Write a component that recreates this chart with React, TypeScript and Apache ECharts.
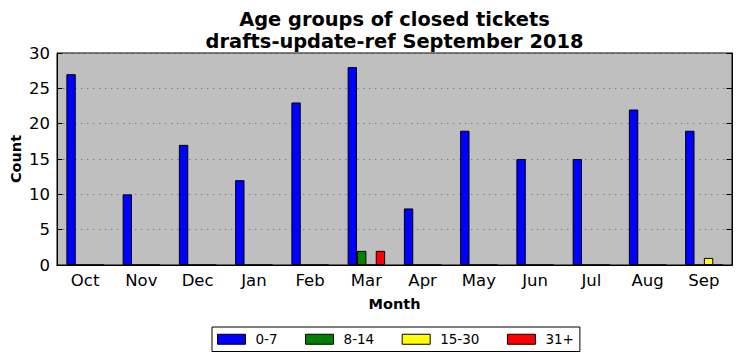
import React, { useEffect, useRef } from "react";
import * as echarts from "echarts";

const months = ["Oct", "Nov", "Dec", "Jan", "Feb", "Mar", "Apr", "May", "Jun", "Jul", "Aug", "Sep"];
const seriesNames = ["0-7", "8-14", "15-30", "31+"];
const age0to7 = [27, 10, 17, 12, 23, 28, 8, 19, 15, 15, 22, 19];
const age8to14 = [0, 0, 0, 0, 0, 2, 0, 0, 0, 0, 0, 0];
const age15to30 = [0, 0, 0, 0, 0, 0, 0, 0, 0, 0, 0, 1];
const age31plus = [0, 0, 0, 0, 0, 2, 0, 0, 0, 0, 0, 0];
const seriesColors = ["#0000ff", "#008000", "#ffff00", "#ff0000"];
const yTicks = { min: 0, max: 30, interval: 5 };

const FONT = "DejaVu Sans";

export default function App() {
  const ref = useRef<HTMLDivElement>(null);
  useEffect(() => {
    if (!ref.current) return;
    const chart = echarts.init(ref.current, undefined, { renderer: "svg" });
    const values = [age0to7, age8to14, age15to30, age31plus];
    const tickStyle = { inside: true, length: 5.5, lineStyle: { color: "#000", width: 1 } };
    chart.setOption({
      animation: false,
      title: {
        text: "Age groups of closed tickets\ndrafts-update-ref September 2018",
        left: 394.5,
        textAlign: "center",
        top: 8,
        padding: 0,
        textStyle: { fontFamily: FONT, fontWeight: "bold", fontSize: 19.4, lineHeight: 22, color: "#000" },
      },
      grid: {
        left: 57,
        right: 10,
        top: 53,
        bottom: 96,
        show: true,
        backgroundColor: "#bfbfbf",
        borderColor: "#000",
        borderWidth: 1,
        containLabel: false,
        outerBoundsMode: "none",
      },
      legend: {
        data: seriesNames,
        left: 212,
        top: 327,
        padding: [5, 6, 5, 5],
        itemWidth: 28,
        itemHeight: 10,
        itemGap: 27.5,
        borderColor: "#000",
        borderWidth: 1,
        backgroundColor: "#fff",
        icon: "rect",
        itemStyle: { borderColor: "#000", borderWidth: 1 },
        textStyle: { fontFamily: FONT, fontSize: 13.5, lineHeight: 14.5, color: "#000", padding: [0, 0, 0, 5] },
      },
      xAxis: [
        {
          type: "category",
          data: months,
          position: "bottom",
          name: "Month",
          nameLocation: "middle",
          nameGap: 31,
          nameMoveOverlap: false,
          nameTextStyle: { fontFamily: FONT, fontWeight: "bold", fontSize: 14.5, color: "#000" },
          axisLine: { show: true, lineStyle: { color: "#000", width: 1 } },
          axisTick: { ...tickStyle, alignWithLabel: true },
          axisLabel: { fontFamily: FONT, fontSize: 16.5, color: "#000", margin: 7 },
          splitLine: { show: false },
        },
        {
          type: "category",
          data: months,
          position: "top",
          axisLine: { show: true, lineStyle: { color: "#000", width: 1 } },
          axisTick: { ...tickStyle, alignWithLabel: true },
          axisLabel: { show: false },
          splitLine: { show: false },
        },
      ],
      yAxis: [
        {
          type: "value",
          position: "left",
          ...yTicks,
          name: "Count",
          nameLocation: "middle",
          nameGap: 34,
          nameMoveOverlap: false,
          nameTextStyle: { fontFamily: FONT, fontWeight: "bold", fontSize: 14.5, color: "#000" },
          axisLine: { show: true, lineStyle: { color: "#000", width: 1 } },
          axisTick: { show: true, ...tickStyle },
          axisLabel: { fontFamily: FONT, fontSize: 16.5, color: "#000", margin: 7 },
          splitLine: { show: true, lineStyle: { color: "#808080", width: 1, type: [1.5, 4.5] } },
        },
        {
          type: "value",
          position: "right",
          ...yTicks,
          axisLine: { show: true, lineStyle: { color: "#000", width: 1 } },
          axisTick: { show: true, ...tickStyle },
          axisLabel: { show: false },
          splitLine: { show: false },
        },
      ],
      series: seriesNames.map((name, i) => ({
        name,
        type: "bar",
        xAxisIndex: 0,
        yAxisIndex: 0,
        data: values[i],
        barWidth: 9.375,
        barGap: "0%",
        itemStyle: { color: seriesColors[i], borderColor: "#000", borderWidth: 1 },
      })),
    });
    return () => chart.dispose();
  }, []);
  return <div ref={ref} style={{ width: 742, height: 361, position: "absolute", left: 0, top: 0 }} />;
}
